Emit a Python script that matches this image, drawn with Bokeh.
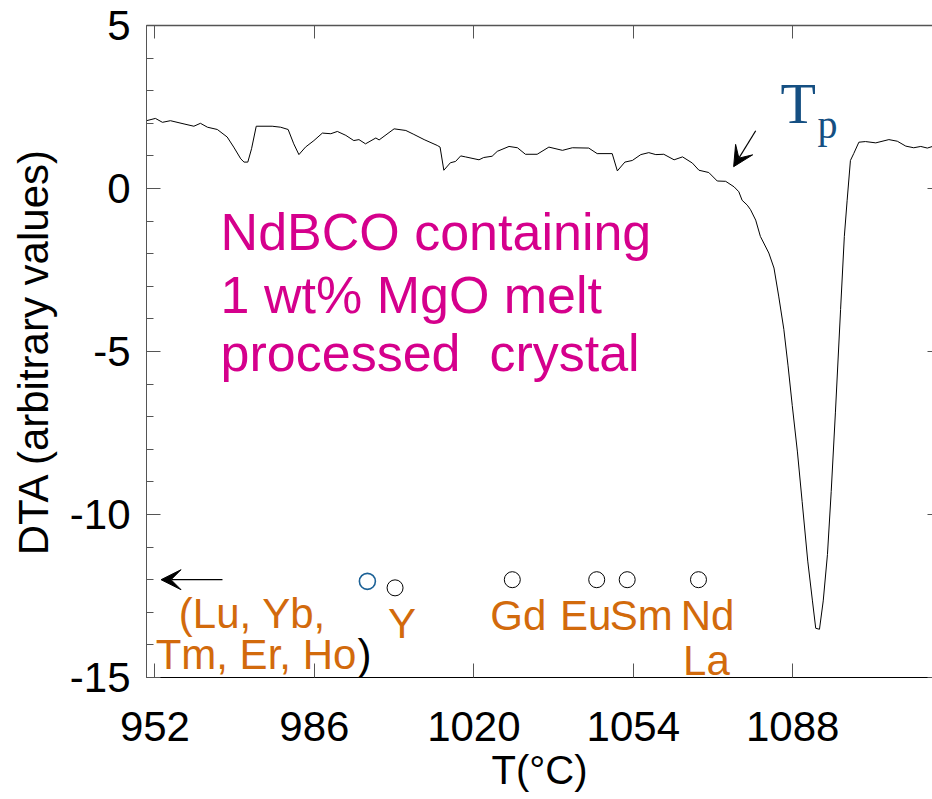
from bokeh.plotting import figure
from bokeh.models import Range1d, LinearAxis, FixedTicker, Label, Arrow, VeeHead
from bokeh.embed import file_html
from bokeh.resources import INLINE

# ---- data ----
temp_c = [950.2, 952.1, 953.6, 955.3, 958.2, 960.3, 961.7, 963.2, 965.3, 967.4,
          968.8, 970.3, 971.0, 971.8, 972.6, 973.6, 977.0, 978.8, 980.4, 981.6,
          982.7, 984.1, 985.9, 987.7, 989.5, 990.9, 992.7, 994.4, 995.5, 996.9,
          999.1, 999.8, 1003.0, 1005.5, 1007.2, 1009.4, 1012.2, 1012.8, 1013.6, 1015.0,
          1016.1, 1017.2, 1018.2, 1021.1, 1022.1, 1023.9, 1025.0, 1027.5, 1029.3, 1031.0,
          1033.5, 1036.0, 1038.9, 1041.0, 1044.5, 1046.3, 1049.5, 1050.6, 1052.2, 1053.8,
          1055.6, 1057.3, 1058.8, 1060.5, 1062.7, 1064.5, 1066.6, 1068.0, 1070.1, 1071.9,
          1073.7, 1075.5, 1076.5, 1077.2, 1078.3, 1079.0, 1080.1, 1081.1, 1082.9, 1084.0,
          1085.0, 1086.1, 1087.0, 1087.9, 1089.0, 1090.0, 1091.2, 1092.2, 1092.9, 1093.7,
          1094.5, 1095.4, 1096.2, 1097.1, 1098.2, 1099.0, 1099.6, 1100.3, 1101.0, 1102.1,
          1103.5, 1105.7, 1108.5, 1110.3, 1112.1, 1113.8, 1115.3, 1116.7, 1117.8]
dta = [2.08, 2.15, 2.03, 2.08, 1.98, 1.91, 2.00, 1.88, 1.81, 1.58,
       1.27, 0.91, 0.81, 0.81, 1.22, 1.91, 1.91, 1.88, 1.81, 1.37,
       1.04, 1.27, 1.47, 1.70, 1.68, 1.75, 1.63, 1.47, 1.50, 1.37,
       1.55, 1.49, 1.83, 1.78, 1.66, 1.50, 1.32, 1.27, 0.56, 0.79,
       0.83, 1.00, 0.97, 0.88, 0.95, 0.99, 1.14, 1.29, 1.25, 1.05,
       1.05, 1.27, 1.17, 1.25, 1.24, 1.07, 1.07, 0.54, 0.81, 0.86,
       1.04, 1.10, 1.04, 1.05, 0.88, 0.97, 0.78, 0.56, 0.49, 0.23,
       0.22, 0.05, -0.10, -0.36, -0.51, -0.65, -0.97, -1.47, -1.98, -2.44,
       -3.30, -4.32, -5.44, -6.66, -8.08, -9.60, -11.43, -12.65, -13.49, -13.52,
       -12.65, -11.23, -9.30, -6.86, -3.71, -1.47, -0.36, 0.86, 1.07, 1.42,
       1.44, 1.40, 1.50, 1.45, 1.30, 1.25, 1.29, 1.24, 1.29]

elements = ["Y", "Gd", "Eu", "Sm", "Nd"]
element_temp = [1003.2, 1028.2, 1046.2, 1052.7, 1067.9]
element_dta = [-12.25, -12.0, -12.0, -12.0, -12.0]
measured_temp = [997.3]
measured_dta = [-12.05]

x_ticks = [952, 986, 1020, 1054, 1088]
y_ticks = [-15, -10, -5, 0, 5]
y_minor = list(range(-15, 6))

# ---- figure ----
p = figure(width=932, height=799, output_backend="svg", toolbar_location=None,
           x_range=Range1d(950.2, 1117.8), y_range=Range1d(-15, 5),
           x_axis_type=None, y_axis_type=None)
p.min_border_left = 146
p.min_border_right = 0
p.min_border_top = 25
p.min_border_bottom = 122
p.outline_line_color = None
p.background_fill_color = "white"
p.border_fill_color = "white"

FONT = "Liberation Sans"
GREY = "#555555"

left = LinearAxis(ticker=FixedTicker(ticks=y_ticks, minor_ticks=y_minor),
                  major_label_overrides={t: str(t) for t in y_ticks})
left.axis_line_color = GREY
left.major_tick_line_color = GREY
left.minor_tick_line_color = GREY
left.major_tick_in = 14
left.major_tick_out = 0
left.minor_tick_in = 7
left.minor_tick_out = 0
left.major_label_standoff = 16
left.major_label_text_font = FONT
left.major_label_text_font_size = "42px"
left.major_label_text_color = "black"
left.axis_label = "DTA (arbitrary values)"
left.axis_label_text_font = FONT
left.axis_label_text_font_style = "normal"
left.axis_label_text_font_size = "42px"
left.axis_label_text_color = "black"
left.axis_label_standoff = 10
p.add_layout(left, "left")

bottom = LinearAxis(ticker=FixedTicker(ticks=x_ticks),
                    major_label_overrides={t: str(t) for t in x_ticks})
bottom.axis_line_color = "black"
bottom.major_tick_line_color = GREY
bottom.minor_tick_line_color = None
bottom.major_tick_in = 14
bottom.major_tick_out = 0
bottom.major_label_standoff = 34
bottom.major_label_text_font = FONT
bottom.major_label_text_font_size = "42px"
bottom.major_label_text_color = "black"
bottom.axis_label = "T(°C)"
bottom.axis_label_text_font = FONT
bottom.axis_label_text_font_style = "normal"
bottom.axis_label_text_font_size = "40px"
bottom.axis_label_text_color = "black"
bottom.axis_label_standoff = 4
p.add_layout(bottom, "below")

top = LinearAxis(ticker=FixedTicker(ticks=x_ticks),
                 major_label_overrides={t: "" for t in x_ticks})
top.axis_line_color = GREY
top.axis_line_width = 1.5
top.major_tick_line_color = GREY
top.minor_tick_line_color = None
top.major_tick_in = 13
top.major_tick_out = 0
top.major_label_standoff = 0
top.major_label_text_font_size = "1px"
p.add_layout(top, "above")

right = LinearAxis(ticker=FixedTicker(ticks=y_ticks),
                   major_label_overrides={t: "" for t in y_ticks})
right.axis_line_color = None
right.major_tick_line_color = GREY
right.minor_tick_line_color = None
right.major_tick_in = 5
right.major_tick_out = 0
right.major_label_standoff = 0
right.major_label_text_font_size = "1px"
p.add_layout(right, "right")


def put(x, y, text, size, color, font=FONT, align="left", dx=0):
    # text sits on its baseline at (x, y); the shift compensates the text box descent
    p.add_layout(Label(x=x, y=y, x_offset=dx, y_offset=round(0.34 * size), text=text,
                       text_font=font, text_font_size=f"{size}px", text_color=color,
                       text_align=align, text_baseline="alphabetic"))


# ---- curve ----
p.line(temp_c, dta, line_color="black", line_width=1)

# ---- markers ----
p.scatter(element_temp, element_dta, marker="circle", size=16,
          fill_color=None, line_color="black", line_width=1)
p.scatter(measured_temp, measured_dta, marker="circle", size=16,
          fill_color=None, line_color="#1c6196", line_width=1.6)

ORANGE = "#d26a0c"
label_dx = [7, 6, -11, 14, 9]
for name, t, d, dx in zip(elements, element_temp, element_dta, label_dx):
    put(t, d - 1.53, name, 42, ORANGE, align="center", dx=dx)
put(element_temp[4], element_dta[4] - 2.92, "La", 42, ORANGE, align="center", dx=8)

put(957.1, -13.48, "(Lu, Yb,", 42, ORANGE)
put(952.15, -14.73, "Tm, Er, Ho", 42, ORANGE)
put(995.2, -14.73, ")", 42, "black")

p.add_layout(Arrow(x_start=966.4, y_start=-12.0, x_end=953.3, y_end=-12.0,
                   line_color="black", line_width=1.2,
                   end=VeeHead(size=20, fill_color="black", line_color="black")))

# ---- sample annotation ----
MAGENTA = "#d5008c"
for txt, yy in [("NdBCO containing", -1.89), ("1 wt% MgO melt", -3.81),
                ("processed\u00a0 crystal", -5.61)]:
    put(966.0, yy, txt, 52, MAGENTA)

# ---- Tp ----
NAVY = "#154f82"
put(1085.4, 1.98, "T", 58, NAVY, font="Liberation Serif")
put(1093.3, 1.52, "p", 40, NAVY, font="Liberation Serif")
p.add_layout(Arrow(x_start=1080.1, y_start=1.77, x_end=1075.4, y_end=0.67,
                   line_color="black", line_width=1.2,
                   end=VeeHead(size=20, fill_color="black", line_color="black")))

open("out.html", "w").write(file_html(p, INLINE))
